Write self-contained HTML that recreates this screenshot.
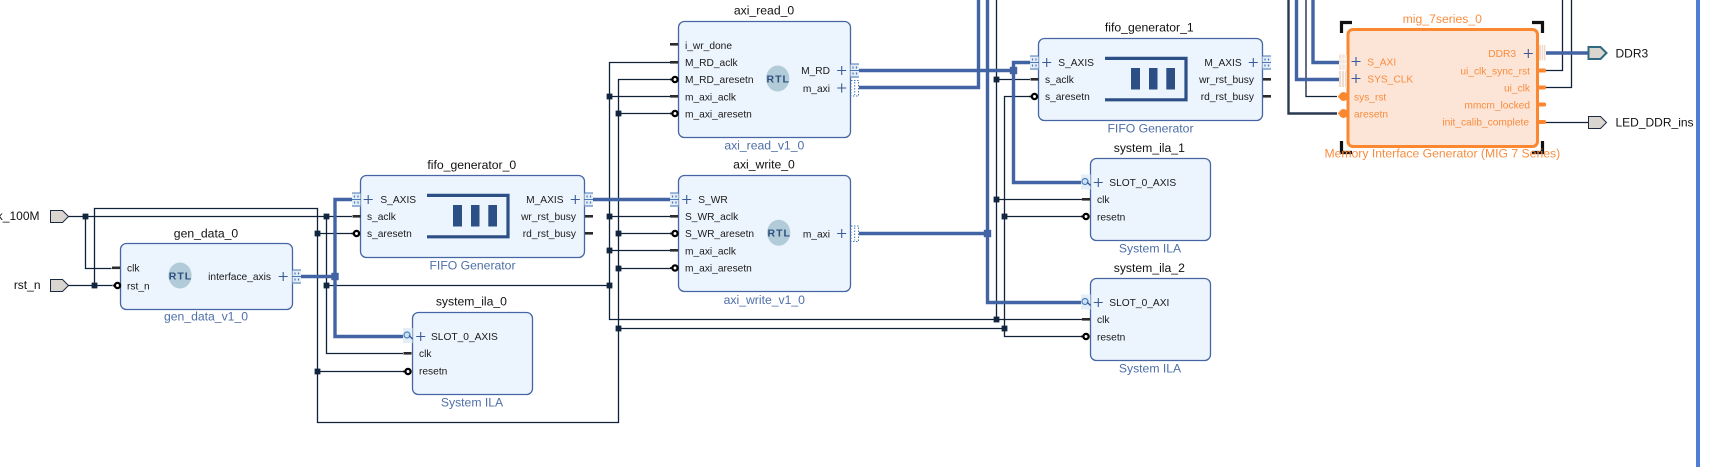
<!DOCTYPE html>
<html>
<head>
<meta charset="utf-8">
<style>
html,body{margin:0;padding:0;background:#fff;width:1712px;height:467px;overflow:hidden}
svg{display:block}
text{font-family:"Liberation Sans",sans-serif}
.p{font-size:10.2px;fill:#1a1a1a}
.t{font-size:12.2px;fill:#111;text-anchor:middle}
.s{font-size:12.2px;fill:#4f6fa8;text-anchor:middle}
.e{text-anchor:end}
.x{font-size:12px;fill:#111}
.o{font-size:10.2px;fill:#f98d3f}
.ot{font-size:12.2px;fill:#f98d3f;text-anchor:middle}
.r{font-size:10.5px;font-weight:bold;fill:#2e5080;text-anchor:middle;letter-spacing:1px}
.b{fill:#ecf4fd;stroke:#4565a3;stroke-width:1.3}
.w{fill:none;stroke:#10213a;stroke-width:1.3}
.k{fill:none;stroke:#4264a4;stroke-width:3.4}
</style>
</head>
<body>
<svg width="1712" height="467" viewBox="0 0 1712 467" xmlns="http://www.w3.org/2000/svg">
<defs>
<g id="pb"><rect x="0" y="-7" width="8.5" height="14.5" fill="#e3edf8"/><path d="M0-6.5H8.5M0 0H8.5M0 6.5H8.5" stroke="#4a78b4" fill="none"/><path d="M2.5-4v2M6-4v2M2.5 2v2M6 2v2" stroke="#4a78b4" stroke-width="1.2" fill="none"/></g>
<g id="pd"><rect x="0.5" y="-7.5" width="7.5" height="15.5" fill="#fff" stroke="#4a78b4" stroke-dasharray="1.5 1.5"/><path d="M4.2-6V7" stroke="#4a78b4" stroke-dasharray="1.5 1.5" fill="none"/></g>
<g id="dash"><rect x="0" y="-1.5" width="8" height="2.6" fill="#2b2b2b"/></g>
<g id="neg"><path d="M0 0H3" stroke="#111" stroke-width="1.8" fill="none"/><circle cx="5" cy="0" r="2.6" fill="#fff" stroke="#000" stroke-width="2.3"/></g>
<g id="plus"><path d="M-4.5 0H4.5M0-4.5V4.5" stroke="#3a5b96" stroke-width="1.1" fill="none"/></g>
<g id="mag"><rect x="0" y="-8" width="9.5" height="15" fill="#e3eef9"/><circle cx="4" cy="-1" r="3" fill="#cfe2f3" stroke="#4a80bc" stroke-width="1.2"/><path d="M6-0.5L9.5 3" stroke="#2f5a94" stroke-width="1.3"/></g>
<rect id="j" x="-2.9" y="-2.9" width="5.8" height="5.8" fill="#12273f"/>
<rect id="jk" x="-3.7" y="-3.7" width="7.4" height="7.4" fill="#4264a4"/>
<g id="rtl"><ellipse cx="0" cy="0" rx="11.6" ry="13" fill="#b2cbd8"/></g>
<g id="fifo"><path d="M1105 58.4H1186V99.8H1105" fill="none" stroke="#2c4f85" stroke-width="3.2"/><rect x="1131" y="68" width="9" height="21.5" fill="#2c4f85"/><rect x="1149" y="68" width="8.5" height="21.5" fill="#2c4f85"/><rect x="1166.3" y="68" width="8.7" height="21.5" fill="#2c4f85"/></g>
<polygon id="ext" points="0,-6 12,-6 18,0 12,6 0,6" fill="#dbd5d0" stroke="#1a2a40" stroke-width="1"/>
</defs>

<!-- right vertical bar -->
<rect x="1696" y="0" width="4" height="467" fill="#4f7fd4"/>

<!-- blocks -->
<rect class="b" x="120.5" y="243.5" width="172" height="66" rx="6"/>
<rect class="b" x="360.5" y="175.5" width="224" height="82" rx="6"/>
<rect class="b" x="412.5" y="312.5" width="120" height="82" rx="6"/>
<rect class="b" x="678.5" y="21.5" width="172" height="116" rx="6"/>
<rect class="b" x="678.5" y="175.5" width="172" height="116" rx="6"/>
<rect class="b" x="1038.5" y="38.5" width="224" height="82" rx="6"/>
<rect class="b" x="1090.5" y="158.5" width="120" height="82" rx="6"/>
<rect class="b" x="1090.5" y="278.5" width="120" height="82" rx="6"/>

<!-- MIG brackets -->
<path d="M1341.5 33V22.5H1352M1532 22.5H1542.5V33M1341.5 141V152.5H1352M1532 152.5H1542.5V141" fill="none" stroke="#111" stroke-width="3.2"/>
<rect x="1348" y="29.5" width="189.5" height="117" rx="5" fill="#fce4d6" stroke="#fb8830" stroke-width="3"/>

<!-- thin wires -->
<path class="w" d="M68 216.5H352M85.5 216.5V268.5H111.5M68 285.5H112M94.5 285.5V208.5H317.5V422.5H618.5V79.5H671M317.5 233.5H352M317.5 371.5H404M326.5 216.5V353.5H403M326.5 285.5H609.5"/>
<path class="w" d="M670 62.5H609.5V319.5H1082M609.5 96.5H670M609.5 216.5H670M609.5 250.5H670"/>
<path class="w" d="M618.5 113.5H671M618.5 233.5H671M618.5 268.5H671M618.5 328.5H1004.5"/>
<path class="w" d="M996.5 0V319.5M996.5 79.5H1030M996.5 199.5H1082"/>
<path class="w" d="M1030 96.5H1004.5V336.5H1082M1004.5 216.5H1082"/>
<path class="w" d="M1306 0V96.5H1337M1545 70.5H1562.5V0M1545 87.5H1571.5V0M1545 122.5H1588"/>
<path d="M1288.5 0V113.5H1337" fill="none" stroke="#2a3a52" stroke-width="2.4"/>

<!-- thick wires -->
<path class="k" d="M301 276.5H335"/>
<path class="k" d="M352.5 199.5H335V336.5H403"/>
<path class="k" d="M593 199.5H670"/>
<path class="k" d="M859 70.5H1013.5"/>
<path class="k" d="M1030 62.5H1013.5V182.5H1081"/>
<path class="k" d="M859 87.5H978.5V0"/>
<path class="k" d="M859 233.5H987.5"/>
<path class="k" d="M987.5 0V302.5H1081"/>
<path class="k" d="M1296.5 0V79.5H1339"/>
<path class="k" d="M1313 0V62.5H1339"/>
<path class="k" d="M1546 53H1590"/>

<!-- junctions -->
<use href="#j" x="85.5" y="216.5"/><use href="#j" x="94.5" y="285.5"/>
<use href="#j" x="326.5" y="216.5"/><use href="#j" x="317.5" y="233.5"/>
<use href="#j" x="326.5" y="285.5"/><use href="#j" x="317.5" y="371.5"/>
<use href="#j" x="609.5" y="96.5"/><use href="#j" x="609.5" y="216.5"/>
<use href="#j" x="609.5" y="250.5"/><use href="#j" x="609.5" y="285.5"/>
<use href="#j" x="618.5" y="113.5"/><use href="#j" x="618.5" y="233.5"/>
<use href="#j" x="618.5" y="268.5"/><use href="#j" x="618.5" y="328.5"/>
<use href="#j" x="996.5" y="79.5"/><use href="#j" x="996.5" y="199.5"/>
<use href="#j" x="996.5" y="319.5"/><use href="#j" x="1004.5" y="216.5"/>
<use href="#j" x="1004.5" y="328.5"/>
<use href="#jk" x="335" y="276.5"/><use href="#jk" x="1013.5" y="70.5"/><use href="#jk" x="987.5" y="233.5"/>

<!-- external ports -->
<use href="#ext" x="50.5" y="216.5"/>
<use href="#ext" x="50.5" y="285.5"/>
<use href="#ext" x="1588.5" y="122.5"/>
<polygon points="1588.5,47 1600.5,47 1606.5,53 1600.5,59 1588.5,59" fill="#dbd5d0" stroke="#2f6a82" stroke-width="2"/>
<text class="x e" x="39.5" y="220">clk_100M</text>
<text class="x e" x="40.5" y="289">rst_n</text>
<text class="x" x="1615.5" y="57.5">DDR3</text>
<text class="x" x="1615.5" y="126.5">LED_DDR_ins</text>

<!-- gen_data_0 -->
<text class="t" x="206" y="237.5">gen_data_0</text>
<text class="s" x="206" y="320.5">gen_data_v1_0</text>
<use href="#dash" x="112" y="268"/><use href="#neg" x="112.5" y="285.5"/>
<text class="p" x="127" y="271.5">clk</text><text class="p" x="127" y="289.5">rst_n</text>
<use href="#rtl" x="180" y="275.5"/><text class="r" x="180.5" y="279.5">RTL</text>
<text class="p e" x="271" y="280">interface_axis</text>
<use href="#plus" x="283.2" y="276.5"/><use href="#pb" x="292.5" y="276.5"/>

<!-- fifo_generator_0 -->
<text class="t" x="471.8" y="169">fifo_generator_0</text>
<text class="s" x="472.5" y="269.5">FIFO Generator</text>
<use href="#fifo" transform="translate(-678,137)"/>
<use href="#pb" x="352" y="199.5"/><use href="#dash" x="352.5" y="216.5"/><use href="#neg" x="351.5" y="233.5"/>
<use href="#plus" x="368.2" y="199.5"/>
<text class="p" x="380.4" y="203">S_AXIS</text><text class="p" x="367" y="220">s_aclk</text><text class="p" x="367" y="237">s_aresetn</text>
<text class="p e" x="563.5" y="203">M_AXIS</text><text class="p e" x="576" y="220">wr_rst_busy</text><text class="p e" x="576" y="237">rd_rst_busy</text>
<use href="#plus" x="575.3" y="199.5"/><use href="#pb" x="584.5" y="199.5"/><use href="#dash" x="585" y="216.5"/><use href="#dash" x="585" y="233.5"/>

<!-- system_ila_0 -->
<text class="t" x="471.4" y="305.5">system_ila_0</text>
<text class="s" x="472" y="406.5">System ILA</text>
<use href="#mag" x="403" y="336"/><use href="#dash" x="403.5" y="353.5"/><use href="#neg" x="403" y="371.5"/>
<use href="#plus" x="420.7" y="336.5"/>
<text class="p" x="431" y="340">SLOT_0_AXIS</text><text class="p" x="419" y="357">clk</text><text class="p" x="419" y="374.5">resetn</text>

<!-- axi_read_0 -->
<text class="t" x="764" y="14.5">axi_read_0</text>
<text class="s" x="764.3" y="149.5">axi_read_v1_0</text>
<use href="#dash" x="670" y="44.5"/><use href="#dash" x="670" y="62.5"/><use href="#neg" x="670" y="79.5"/><use href="#dash" x="670" y="96.5"/><use href="#neg" x="670" y="113.5"/>
<text class="p" x="685" y="49">i_wr_done</text><text class="p" x="685" y="66">M_RD_aclk</text><text class="p" x="685" y="83">M_RD_aresetn</text><text class="p" x="685" y="100.5">m_axi_aclk</text><text class="p" x="685" y="117.5">m_axi_aresetn</text>
<use href="#rtl" x="777.7" y="78.5"/><text class="r" x="778.2" y="82.5">RTL</text>
<text class="p e" x="830" y="74">M_RD</text><text class="p e" x="830" y="92">m_axi</text>
<use href="#plus" x="841.7" y="70.5"/><use href="#plus" x="841.7" y="88"/>
<use href="#pb" x="850.5" y="70.5"/><use href="#pd" x="850.5" y="88"/>

<!-- axi_write_0 -->
<text class="t" x="764" y="168.5">axi_write_0</text>
<text class="s" x="764.3" y="304">axi_write_v1_0</text>
<use href="#pb" x="670" y="199.5"/><use href="#dash" x="670" y="216.5"/><use href="#neg" x="670" y="233.5"/><use href="#dash" x="670" y="250.5"/><use href="#neg" x="670" y="268"/>
<use href="#plus" x="686.7" y="199.5"/>
<text class="p" x="698.3" y="203">S_WR</text><text class="p" x="685" y="220">S_WR_aclk</text><text class="p" x="685" y="237">S_WR_aresetn</text><text class="p" x="685" y="254.5">m_axi_aclk</text><text class="p" x="685" y="271.5">m_axi_aresetn</text>
<use href="#rtl" x="778.7" y="232.7"/><text class="r" x="779.2" y="236.7">RTL</text>
<text class="p e" x="830" y="237.5">m_axi</text>
<use href="#plus" x="841.7" y="233.5"/><use href="#pd" x="850.5" y="233.5"/>

<!-- fifo_generator_1 -->
<text class="t" x="1149.3" y="31.5">fifo_generator_1</text>
<text class="s" x="1150.5" y="132.5">FIFO Generator</text>
<use href="#fifo"/>
<use href="#pb" x="1030" y="62.5"/><use href="#dash" x="1030.5" y="79.5"/><use href="#neg" x="1029.5" y="96.5"/>
<use href="#plus" x="1046.7" y="62.5"/>
<text class="p" x="1058.3" y="66">S_AXIS</text><text class="p" x="1045" y="83">s_aclk</text><text class="p" x="1045" y="100">s_aresetn</text>
<text class="p e" x="1241.7" y="66">M_AXIS</text><text class="p e" x="1254" y="83">wr_rst_busy</text><text class="p e" x="1254" y="100">rd_rst_busy</text>
<use href="#plus" x="1253.3" y="62.5"/><use href="#pb" x="1262.5" y="62.5"/><use href="#dash" x="1263" y="79.5"/><use href="#dash" x="1263" y="96.5"/>

<!-- system_ila_1 -->
<text class="t" x="1149.3" y="152">system_ila_1</text>
<text class="s" x="1150" y="252.5">System ILA</text>
<use href="#mag" x="1081" y="182.5"/><use href="#dash" x="1082" y="199.5"/><use href="#neg" x="1081" y="216.5"/>
<use href="#plus" x="1098.3" y="182.5"/>
<text class="p" x="1109.3" y="186">SLOT_0_AXIS</text><text class="p" x="1097" y="203">clk</text><text class="p" x="1097" y="220.5">resetn</text>

<!-- system_ila_2 -->
<text class="t" x="1149.3" y="272">system_ila_2</text>
<text class="s" x="1150" y="372.5">System ILA</text>
<use href="#mag" x="1081" y="302.5"/><use href="#dash" x="1082" y="319.5"/><use href="#neg" x="1081" y="336.5"/>
<use href="#plus" x="1098.3" y="302.5"/>
<text class="p" x="1109.3" y="306">SLOT_0_AXI</text><text class="p" x="1097" y="323">clk</text><text class="p" x="1097" y="340.5">resetn</text>

<!-- mig_7series_0 -->
<text class="ot" x="1442.3" y="23">mig_7series_0</text>
<text class="ot" x="1442.3" y="157.5">Memory Interface Generator (MIG 7 Series)</text>
<rect x="1339" y="54.5" width="8" height="15.5" fill="#f3e3d8"/>
<path d="M1339 59H1347M1339 64H1347M1342 54.5V70M1345 54.5V70" stroke="#fff" stroke-width=".7" fill="none"/>
<rect x="1339" y="71" width="8" height="16" fill="#f0dccf"/>
<path d="M1341.5 71V87M1344.5 71V87" stroke="#fff" stroke-width=".8" fill="none"/>
<rect x="1539" y="45" width="6.5" height="15.5" fill="#f0dccf"/>
<path d="M1541.5 45V60.5M1543.5 45V60.5" stroke="#fff" stroke-width=".7" fill="none"/>
<path d="M1338 96.5H1344M1338 113.5H1344" stroke="#fb8830" stroke-width="2" fill="none"/>
<circle cx="1343.5" cy="96.5" r="4.5" fill="#fb8830"/><circle cx="1343.5" cy="113.5" r="4.5" fill="#fb8830"/>
<rect x="1538" y="68.5" width="8" height="4" rx="1.5" fill="#fb8830"/>
<rect x="1538" y="85.5" width="8" height="4" rx="1.5" fill="#fb8830"/>
<rect x="1538" y="102.5" width="8" height="4" rx="1.5" fill="#fb8830"/>
<rect x="1538" y="120" width="8" height="4" rx="1.5" fill="#fb8830"/>
<use href="#plus" x="1356" y="61.5"/><use href="#plus" x="1356" y="78.5"/><use href="#plus" x="1528.3" y="53.5"/>
<text class="o" x="1367.3" y="65.5">S_AXI</text><text class="o" x="1367.3" y="82.5">SYS_CLK</text>
<text class="o" x="1354" y="100.5">sys_rst</text><text class="o" x="1354" y="117.5">aresetn</text>
<text class="o e" x="1516" y="57">DDR3</text><text class="o e" x="1530" y="74.5">ui_clk_sync_rst</text><text class="o e" x="1530" y="91.5">ui_clk</text><text class="o e" x="1530" y="108.5">mmcm_locked</text><text class="o e" x="1529" y="125.5">init_calib_complete</text>
</svg>
</body>
</html>
